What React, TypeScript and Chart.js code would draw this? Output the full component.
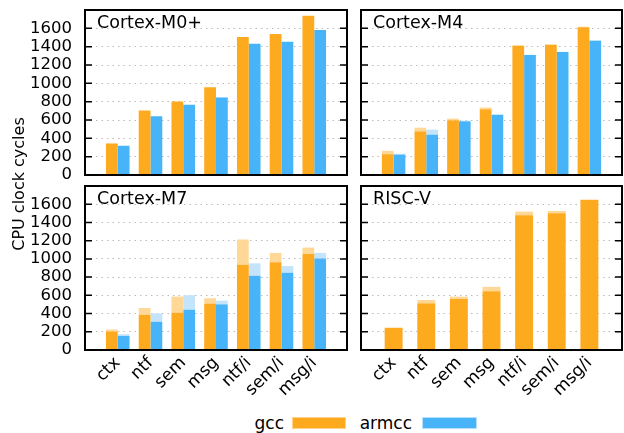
import React, { useEffect, useRef } from 'react';
import { Chart, registerables } from 'chart.js';

Chart.register(...registerables);

const categories = ['ctx', 'ntf', 'sem', 'msg', 'ntf/i', 'sem/i', 'msg/i'];
const yTickValues = [0, 200, 400, 600, 800, 1000, 1200, 1400, 1600];

// Cortex-M0+
const m0GccBase = [344, 703, 802, 956, 1505, 1538, 1736];
const m0GccMax = [344, 703, 802, 956, 1505, 1538, 1736];
const m0ArmBase = [319, 641, 766, 846, 1432, 1454, 1582];
const m0ArmMax = [319, 641, 766, 846, 1432, 1454, 1582];

// Cortex-M4
const m4GccBase = [227, 476, 597, 718, 1410, 1421, 1612];
const m4GccMax = [264, 516, 615, 736, 1415, 1425, 1618];
const m4ArmBase = [223, 440, 586, 656, 1308, 1341, 1465];
const m4ArmMax = [232, 495, 593, 663, 1312, 1345, 1470];

// Cortex-M7
const m7GccBase = [203, 387, 409, 509, 936, 962, 1054];
const m7GccMax = [225, 461, 586, 568, 1213, 1066, 1124];
const m7ArmBase = [155, 310, 442, 501, 815, 848, 1003];
const m7ArmMax = [173, 402, 601, 542, 951, 922, 1066];

// RISC-V
const rvGccBase = [243, 512, 560, 645, 1478, 1500, 1645];
const rvGccMax = [246, 549, 586, 693, 1519, 1526, 1652];

const ORANGE = '#FEAA1F';
const ORANGE_LIGHT = '#FFD898';
const BLUE = '#47B4FA';
const BLUE_LIGHT = '#C4E4FB';
const FONT = '"DejaVu Sans", sans-serif';

type PanelProps = {
  title: string;
  gccBase: number[];
  gccMax: number[];
  armBase?: number[];
  armMax?: number[];
  showY: boolean;
  showX: boolean;
  left: number;
  top: number;
  width: number;
  height: number;
  padding: { left: number; right: number; top: number; bottom: number };
  yWidth: number;
  xHeight: number;
  catPct: number;
};

const pad = (a: (number | null)[]) => [null, ...a, null];
const diff = (max: number[], base: number[]) => max.map((m, i) => Math.max(0, m - base[i]));

function Panel(p: PanelProps) {
  const ref = useRef<HTMLCanvasElement | null>(null);
  useEffect(() => {
    if (!ref.current) return;
    const datasets: any[] = [
      { label: 'gcc', data: pad(p.gccBase), backgroundColor: ORANGE, stack: 'gcc' },
      { label: 'gcc var', data: pad(diff(p.gccMax, p.gccBase)), backgroundColor: ORANGE_LIGHT, stack: 'gcc' },
    ];
    if (p.armBase && p.armMax) {
      datasets.push(
        { label: 'armcc', data: pad(p.armBase), backgroundColor: BLUE, stack: 'armcc' },
        { label: 'armcc var', data: pad(diff(p.armMax, p.armBase)), backgroundColor: BLUE_LIGHT, stack: 'armcc' }
      );
    }
    const deco = {
      id: 'deco',
      afterDraw(chart: any) {
        const { ctx, chartArea } = chart;
        const { left, right, top, bottom } = chartArea;
        const y = chart.scales.y;
        ctx.save();
        ctx.strokeStyle = '#000';
        ctx.lineWidth = 1.5;
        for (const v of yTickValues) {
          const py = y.getPixelForValue(v);
          ctx.beginPath();
          ctx.moveTo(left, py);
          ctx.lineTo(left + 7, py);
          ctx.moveTo(right - 7, py);
          ctx.lineTo(right, py);
          ctx.stroke();
        }
        ctx.lineWidth = 2;
        ctx.strokeRect(left, top, right - left, bottom - top);
        ctx.font = `17.5px ${FONT}`;
        ctx.fillStyle = '#000';
        ctx.textBaseline = 'alphabetic';
        ctx.textAlign = 'left';
        ctx.fillText(p.title, left + 12, top + 18);
        ctx.restore();
      },
    };
    const zeroPad = (a: any) => {
      a.paddingTop = 0;
      a.paddingBottom = 0;
      a.paddingLeft = 0;
      a.paddingRight = 0;
    };
    const chart = new Chart(ref.current, {
      type: 'bar',
      data: { labels: ['', ...categories, ''], datasets },
      plugins: [deco],
      options: {
        responsive: false,
        animation: false,
        devicePixelRatio: 1,
        layout: { padding: p.padding, autoPadding: false },
        plugins: { legend: { display: false }, tooltip: { enabled: false } },
        datasets: { bar: { categoryPercentage: p.catPct, barPercentage: 1, borderWidth: 0 } },
        scales: {
          x: {
            type: 'category',
            offset: false,
            stacked: true,
            grid: { display: false, drawTicks: false },
            border: { display: false },
            ticks: {
              display: p.showX,
              autoSkip: false,
              maxRotation: 45,
              minRotation: 45,
              padding: 3,
              color: '#000',
              font: { family: FONT, size: 17 },
            },
            afterFit: (a: any) => {
              a.height = p.xHeight;
              zeroPad(a);
            },
          },
          y: {
            min: 0,
            max: 1800,
            stacked: true,
            afterBuildTicks: (a: any) => {
              a.ticks = yTickValues.map((v) => ({ value: v }));
            },
            grid: { color: '#bcbcbc', lineWidth: 1, drawTicks: false },
            border: { display: false, dash: [1.5, 4] },
            ticks: {
              display: p.showY,
              autoSkip: false,
              padding: 13,
              color: '#000',
              font: { family: FONT, size: 16.5 },
              callback: (v: any) => String(v),
            },
            afterFit: (a: any) => {
              a.width = p.yWidth;
              zeroPad(a);
            },
          },
        },
      } as any,
    });
    return () => chart.destroy();
  }, []);
  return (
    <canvas
      ref={ref}
      width={p.width}
      height={p.height}
      style={{ position: 'absolute', left: p.left, top: p.top, width: p.width, height: p.height }}
    />
  );
}

export default function App() {
  const topPad = { left: 0, right: 7, top: 10, bottom: 5 };
  const topPadR = { left: 7, right: 2, top: 10, bottom: 5 };
  const botPad = { left: 0, right: 7, top: 6, bottom: 0 };
  const botPadR = { left: 7, right: 2, top: 6, bottom: 0 };
  return (
    <div style={{ position: 'absolute', left: 0, top: 0, width: 624, height: 433, background: '#fff', overflow: 'hidden' }}>
      <Panel title="Cortex-M0+" gccBase={m0GccBase} gccMax={m0GccMax} armBase={m0ArmBase} armMax={m0ArmMax}
        showY showX={false} left={0} top={0} width={354} height={180} padding={topPad} yWidth={85} xHeight={0} catPct={0.72} />
      <Panel title="Cortex-M4" gccBase={m4GccBase} gccMax={m4GccMax} armBase={m4ArmBase} armMax={m4ArmMax}
        showY={false} showX={false} left={354} top={0} width={270} height={180} padding={topPadR} yWidth={0} xHeight={0} catPct={0.72} />
      <Panel title="Cortex-M7" gccBase={m7GccBase} gccMax={m7GccMax} armBase={m7ArmBase} armMax={m7ArmMax}
        showY showX left={0} top={180} width={354} height={230} padding={botPad} yWidth={85} xHeight={60} catPct={0.72} />
      <Panel title="RISC-V" gccBase={rvGccBase} gccMax={rvGccMax}
        showY={false} showX left={354} top={180} width={270} height={230} padding={botPadR} yWidth={0} xHeight={60} catPct={0.55} />
      <div style={{
        position: 'absolute', left: 19 - 100, top: 184 - 10, width: 200, height: 20, lineHeight: '20px',
        textAlign: 'center', transform: 'rotate(-90deg)', font: `16px ${FONT}`, color: '#000', whiteSpace: 'nowrap',
      }}>CPU clock cycles</div>
      <div style={{ position: 'absolute', left: 200, top: 413, width: 84, height: 20, lineHeight: '20px', textAlign: 'right', font: `17px ${FONT}` }}>gcc</div>
      <div style={{ position: 'absolute', left: 292, top: 417, width: 54, height: 12, background: ORANGE, boxSizing: 'border-box', border: '1px solid #FFD090' }} />
      <div style={{ position: 'absolute', left: 330, top: 413, width: 82, height: 20, lineHeight: '20px', textAlign: 'right', font: `17px ${FONT}` }}>armcc</div>
      <div style={{ position: 'absolute', left: 422, top: 417, width: 55, height: 12, background: BLUE, boxSizing: 'border-box', border: '1px solid #B8E0FC' }} />
    </div>
  );
}
